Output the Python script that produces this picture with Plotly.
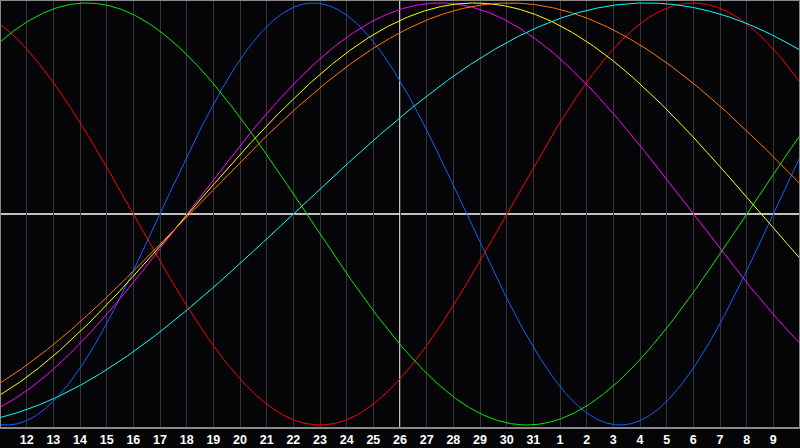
import numpy as np
import plotly.graph_objects as go

# Day positions (continuous day index) and their printed labels
day_index = list(range(12, 41))
day_labels = [str(d) for d in range(12, 32)] + [str(d) for d in range(1, 10)]
view_start = 11
view_end = 41
today = 26

# Biorhythm cycles: period (days), day index of upward zero crossing, colour
cycle_names = ["Physical", "Emotional", "Intellectual", "Intuitive", "Aesthetic", "Awareness", "Spiritual"]
cycle_periods = [23, 28, 33, 38, 43, 48, 53]
cycle_zero_up = [17.0, 30.0, 39.0, 18.0, 18.05, 18.1, 22.0]
cycle_colors = ["#0a64ff", "#ff0000", "#00ee00", "#ff00ff", "#ffff00", "#ff7700", "#00ffff"]

t = np.linspace(view_start, view_end, 1501)

fig = go.Figure()
for name, p, z, c in zip(cycle_names, cycle_periods, cycle_zero_up, cycle_colors):
    fig.add_trace(go.Scatter(
        x=t, y=np.sin(2 * np.pi * (t - z) / p), mode="lines", name=name,
        line=dict(color=c, width=1), hoverinfo="skip"))

bg = "#050508"
fig.update_layout(
    width=800, height=448,
    margin=dict(l=0, r=0, t=0, b=20),
    paper_bgcolor=bg, plot_bgcolor=bg,
    showlegend=False,
    xaxis=dict(range=[view_start, view_end], tickvals=day_index, ticktext=day_labels,
               showgrid=True, gridcolor="#36363a", gridwidth=1, zeroline=False,
               showline=False, ticks="", fixedrange=True, ticklabelstandoff=2,
               tickfont=dict(family="Liberation Sans", size=12.5, color="white", weight="bold")),
    yaxis=dict(range=[-1.014, 1.014], showgrid=False, zeroline=False,
               showticklabels=False, fixedrange=True),
    shapes=[
        dict(type="line", xref="x", yref="y", x0=view_start, x1=view_end, y0=0, y1=0,
             line=dict(color="white", width=1.5), layer="below"),
        dict(type="line", xref="x", yref="paper", x0=today, x1=today, y0=0, y1=1,
             line=dict(color="white", width=1.5), layer="below"),
        dict(type="rect", xref="paper", yref="paper", x0=0, x1=1, y0=0, y1=1,
             line=dict(color="#8a8a8a", width=2)),
    ],
)

fig.write_html("out.html", config={"displayModeBar": False},
               post_script="document.body.style.margin='0px';document.body.style.background='%s';" % bg)
